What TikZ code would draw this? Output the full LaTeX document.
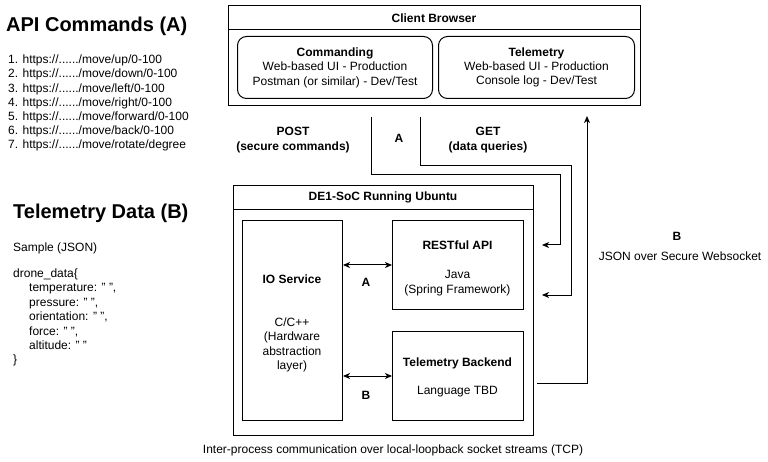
\documentclass[tikz,border=0pt]{standalone}
\usepackage{fontspec}
\setmainfont{Liberation Sans}
\usetikzlibrary{arrows.meta,calc}
\newcommand{\dd}{......}
\begin{document}
\begin{tikzpicture}[
  x=1pt, y=-1pt,
  every node/.style={font=\fontsize{12}{14.4}\selectfont, inner sep=0pt},
  box/.style={draw, line width=1pt, anchor=north west, inner sep=0pt},
  rbox/.style={box, rounded corners=9pt},
  hd/.style={font=\fontsize{12}{14.4}\selectfont\bfseries, align=center},
  txt/.style={align=center},
  big/.style={font=\fontsize{20}{24}\selectfont\bfseries, anchor=base west},
  ln/.style={anchor=base west},
  wire/.style={line width=1pt},
  tip/.tip={Stealth[length=7pt,width=6pt,inset=2pt]},
  arr/.style={wire, -tip},
  dbl/.style={wire, tip-tip},
]
\useasboundingbox (0,0) rectangle (768,462);

% Left texts
\node[big] (apititle) at (6,32) {API Commands (A)};
\node[ln] (api1) at (8,63.8) {1. https://\dd/move/up/0-100};
\node[ln] (api2) at (8,78.0) {2. https://\dd/move/down/0-100};
\node[ln] (api3) at (8,92.2) {3. https://\dd/move/left/0-100};
\node[ln] (api4) at (8,106.4) {4. https://\dd/move/right/0-100};
\node[ln] (api5) at (8,120.6) {5. https://\dd/move/forward/0-100};
\node[ln] (api6) at (8,134.8) {6. https://\dd/move/back/0-100};
\node[ln] (api7) at (8,149.0) {7. https://\dd/move/rotate/degree};

\node[big] (teltitle) at (13,219) {Telemetry Data (B)};
\node[ln] (sample) at (13,252) {Sample (JSON)};
\node[ln] (j0) at (13,277.5) {drone\_data\{};
\node[ln] (j1) at (29,291.9) {temperature: " ",};
\node[ln] (j2) at (29,306.3) {pressure: " ",};
\node[ln] (j3) at (29,320.7) {orientation: " ",};
\node[ln] (j4) at (29,335.1) {force: " ",};
\node[ln] (j5) at (29,349.5) {altitude: " "};
\node[ln] (j6) at (13,363.9) {\}};

% Client browser
\node[box, minimum width=412pt, minimum height=100pt] (cb) at (228,5) {};
\draw[wire] ([yshift=-25pt]cb.north west) -- ([yshift=-25pt]cb.north east);
\node[hd] (cbt) at (434,18) {Client Browser};
\node[rbox, minimum width=195pt, minimum height=62pt] (cmd) at (237,36) {};
\node[txt] (cmdt) at (cmd.center) {\textbf{Commanding}\\Web-based UI - Production\\Postman (or similar) - Dev/Test};
\node[rbox, minimum width=196pt, minimum height=62pt] (tel) at (438,36) {};
\node[txt] (telt) at (tel.center) {\textbf{Telemetry}\\Web-based UI - Production\\Console log - Dev/Test};

% DE1-SoC
\node[box, minimum width=300pt, minimum height=250pt] (de1) at (233,185) {};
\draw[wire] ([yshift=-25pt]de1.north west) -- ([yshift=-25pt]de1.north east);
\node[hd] (de1t) at (383,197) {DE1-SoC Running Ubuntu};

\node[box, minimum width=100pt, minimum height=200pt] (io) at (242,220) {};
\node[hd] (iot) at (292,279) {IO Service};
\node[txt] (iod) at (292,345) {C/C++\\(Hardware\\abstraction\\layer)};

\node[box, minimum width=131pt, minimum height=89pt] (rest) at (392,220) {};
\node[hd] (restt) at (457.5,245) {RESTful API};
\node[txt] (restd) at (457.5,283) {Java\\(Spring Framework)};

\node[box, minimum width=131pt, minimum height=89pt] (tb) at (392,331) {};
\node[hd] (tbt) at (457.5,363) {Telemetry Backend};
\node[txt] (tbd) at (457.5,392) {Language TBD};

\draw[dbl] (io.east |- rest.west) -- (rest.west);
\node[hd] (la) at (366,282) {A};
\draw[dbl] (io.east |- tb.west) -- (tb.west);
\node[hd] (lb) at (366,395) {B};

% Connectors between browser and SoC
\coordinate (postTop) at (371,117);
\coordinate (postEnd) at (542,245);
\coordinate (getTop) at (420,117);
\coordinate (getEnd) at (542,295);
\coordinate (wsStart) at (537,383);
\coordinate (wsEnd) at (587,116);
\draw[arr] (postTop) |- (560,175) |- (postEnd);
\draw[arr] (getTop) |- (571,166) |- (getEnd);
\draw[arr] (wsStart) -| (wsEnd);

\node[hd] (post) at (293,140) {POST\\(secure commands)};
\node[hd] (lA) at (399,138) {A};
\node[hd] (get) at (488,140) {GET\\(data queries)};

\node[hd] (rB) at (677,236) {B};
\node[txt] (json) at (680,256) {JSON over Secure Websocket};

\node[txt] (ipc) at (393,450) {Inter-process communication over local-loopback socket streams (TCP)};
\end{tikzpicture}
\end{document}
